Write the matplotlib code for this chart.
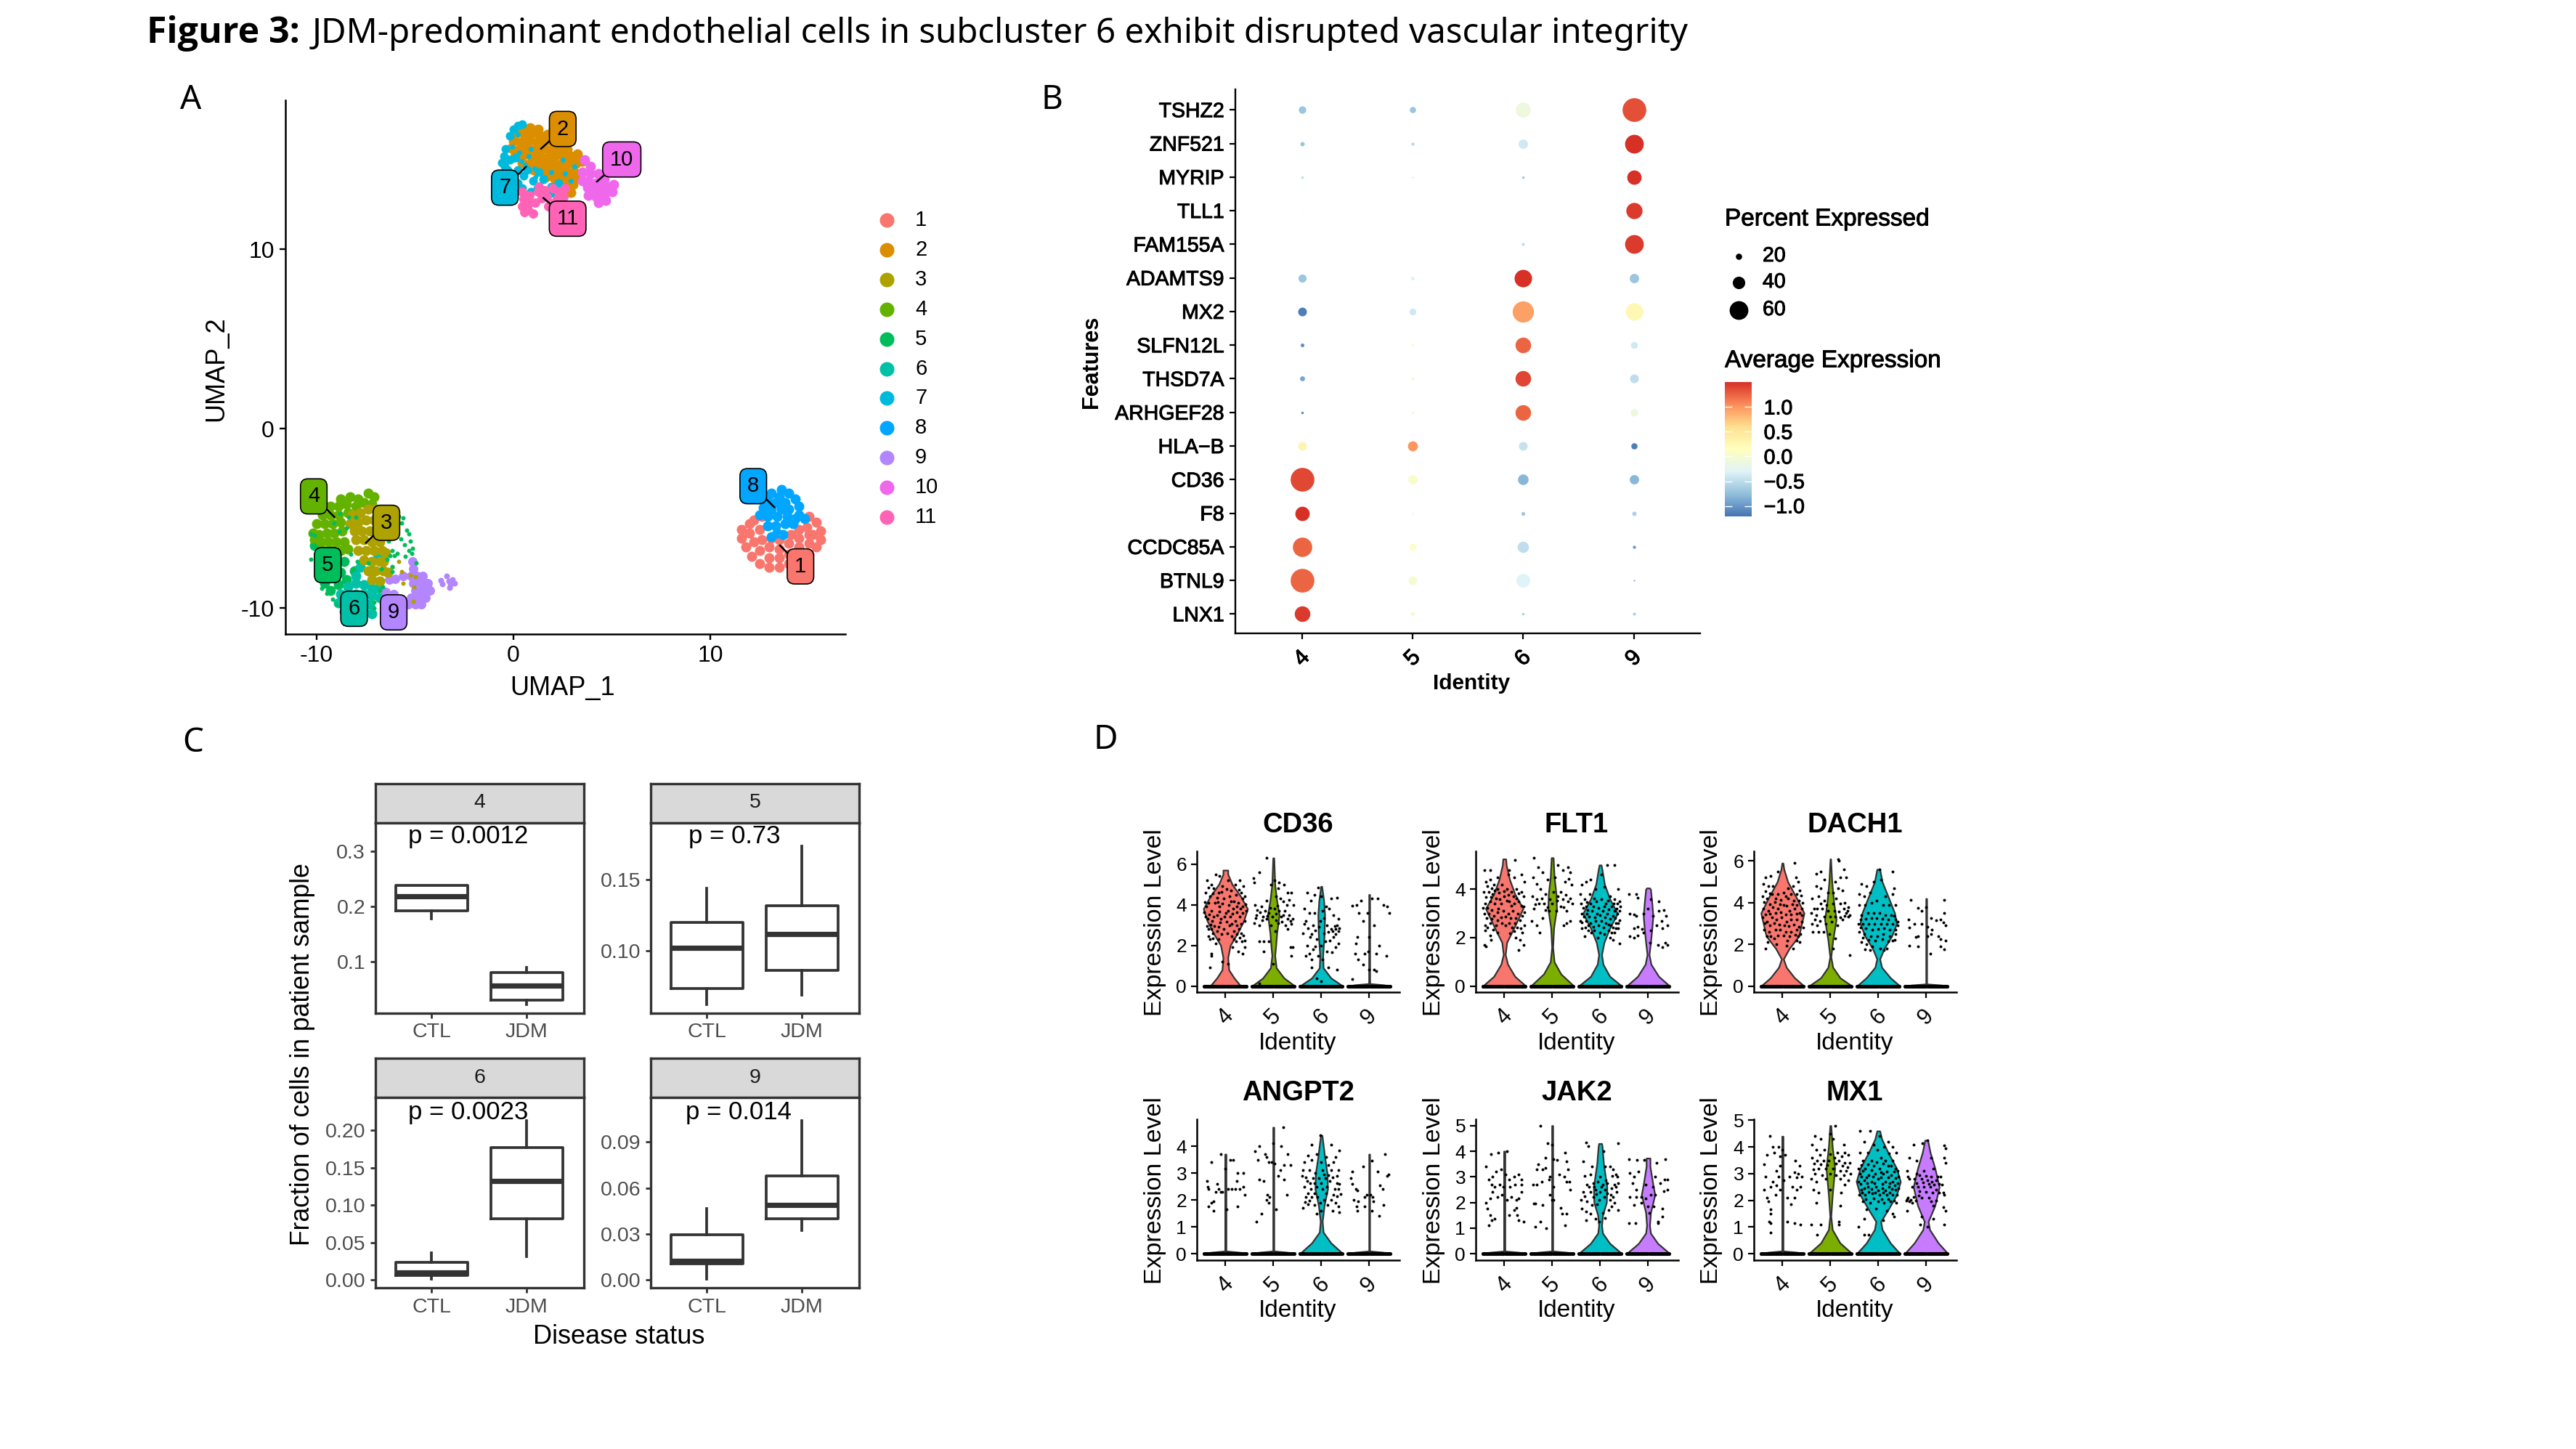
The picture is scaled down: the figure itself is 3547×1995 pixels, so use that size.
import matplotlib
matplotlib.use("Agg")
import matplotlib.pyplot as plt
import matplotlib.patheffects as pe
from matplotlib.colors import LinearSegmentedColormap, Normalize
from matplotlib.cm import ScalarMappable

plt.rcParams['font.family'] = ['Liberation Sans', 'DejaVu Sans']

W, H = 3547, 1995
LINE = '#333333'

# ---- panel A ----
HUES = ['#F8766D', '#DB8E00', '#AEA200', '#64B200', '#00BD5C', '#00C1A7',
        '#00BADE', '#00A6FF', '#B385FF', '#EF67EB', '#FF63B6']
CLUSTERS = ['1', '2', '3', '4', '5', '6', '7', '8', '9', '10', '11']
LABEL_X = [14.58, 2.5, -6.46, -10.15, -9.44, -8.1, -0.44, 12.18, -6.09, 5.5, 2.75]
LABEL_Y = [-7.67, 16.7, -5.24, -3.77, -7.6, -10.03, 13.43, -3.2, -10.23, 15.0, 11.7]
LEADER_X = [13.54, 1.4, -7.5, -9.1, None, None, 0.63, 13.25, None, 4.24, 1.52]
LEADER_Y = [-6.5, 15.6, -6.36, -4.92, None, None, 14.59, -4.37, None, 13.77, 12.85]

U1 = [(11.6,-5.6),(11.6,-6.1),(11.8,-6.6),(12.1,-7.1),(12.5,-7.5),(13,-7.7),(13.5,-7.7),(14,-7.5),(14.5,-7.2),(15,-7),
      (15.4,-6.6),(15.6,-6.2),(15.6,-5.7),(15.4,-5.2),(15,-4.9),(12,-5.3),(12,-5.8),(12.2,-6.3),(12.5,-6.8),(13,-7.2),
      (13.5,-7.2),(14,-7),(14.5,-6.6),(15,-6.4),(15.2,-5.9),(14.9,-5.5),(14.5,-5.6),(14.1,-5.9),(14.5,-6.1),(14,-6.4),
      (13.5,-6.7),(13,-6.6),(12.6,-6.2),(13.1,-6.1),(13.5,-6.2),(12.5,-5.6),(12.2,-5.1),(12.6,-4.9),(15,-5.9)]
U8 = [(13.6,-3.4),(13.1,-3.6),(14,-3.6),(14.3,-3.9),(13.5,-3.8),(12.9,-4),(13.3,-4.1),(13.8,-4.1),(14.5,-4.3),(12.7,-4.4),
      (13.1,-4.5),(13.6,-4.5),(14,-4.5),(14.5,-4.8),(12.5,-4.8),(12.9,-4.9),(13.4,-4.9),(13.9,-4.9),(14.3,-5),(14.8,-5),
      (12.9,-5.4),(13.3,-5.4),(13.8,-5.3),(13.4,-5.8),(13.7,-5.9),(13.1,-6),(14.2,-5.3)]
U2 = [(.42,16.82),(.83,16.75),(1.24,16.7),(.12,16.45),(.55,16.38),(.93,16.42),(1.36,16.33),(1.72,16.41),(2.15,16.36),
      (-.02,16.03),(.38,15.96),(.77,16.04),(1.18,15.97),(1.63,16.02),(2.04,15.93),(2.46,15.9),(-.12,15.62),(.29,15.55),
      (.74,15.64),(1.12,15.56),(1.53,15.61),(1.87,15.52),(2.33,15.6),(2.71,15.55),(.08,15.18),(.52,15.25),(.91,15.16),
      (1.31,15.22),(1.76,15.15),(2.12,15.23),(2.56,15.17),(2.93,15.2),(3.24,15.3),(.44,14.81),(.79,14.75),(1.27,14.84),
      (1.58,14.77),(2.03,14.82),(2.38,14.74),(2.84,14.8),(3.17,14.78),(3.52,14.9),(1.02,14.42),(1.43,14.36),(1.81,14.41),
      (2.24,14.37),(2.63,14.43),(3.05,14.35),(1.62,14.02),(2.06,13.96),(2.41,14.03),(2.83,13.97),(3.21,14.0),(2.24,13.6),
      (2.68,13.55),(3.02,13.62),(2.58,13.2),(2.91,13.15)]
U7 = [(-.4,15.6),(-.5,15.2),(-.6,14.8),(-.3,14.4),(-.1,14.1),(.2,14.4),(.5,14.1),(-.2,16.3),(.2,16.9),(.45,16.95),(0,16.7),
      (-.45,14.6),(.1,15.1),(-.2,15),(.7,14.4),(1,13.8),(1.2,13.4),(1.5,13.9),(1.3,14.3),(1.9,13.5),(2.1,13.1),(2.3,13.7),
      (1.7,13.1),(.9,13.2),(-.1,13.4),(.2,13.7),(.45,13.4)]
# cyan dots scattered over the orange cluster
U7S = [(1.05,14.5),(1.6,14),(2.2,13.7),(.76,15.2),(-.08,15.7),(.2,16.4),(.3,15.4),(.6,14.7),(2.6,14.2),(1.1,14),(1.9,14.3),
       (-.3,15.1),(0,15.0),(.4,14.9),(.9,15.6),(2.9,13.8),(3.1,14.6),(2.5,15.0)]
U10 = [(3.6,15.0),(3.9,14.6),(3.5,14.3),(3.9,14.2),(4.3,14.2),(3.5,13.8),(3.8,13.8),(4.2,13.7),(4.6,13.9),(3.75,13.45),
       (4.0,13.3),(4.4,13.4),(4.8,13.5),(3.8,13.0),(4.2,12.9),(4.6,13.0),(5.0,13.2),(5.1,13.6),(4.3,12.6),(4.7,12.7)]
U11 = [(.45,13.2),(.5,12.8),(.45,12.4),(.8,13),(.8,12.6),(.75,12.2),(1.0,12.0),(.55,12.05),(1.1,12.6),(1.25,13.2),(1.3,13.5),
       (1.6,13.3),(1.7,12.9),(1.9,12.55),(2.2,12.8),(2.3,13.2),(2.55,12.9),(1.45,12.85),(2.0,13.4),(2.6,13.4),(1.75,12.4)]
U5 = [(-10.1,-6.5),(-9.9,-7),(-9.7,-7.5),(-9.3,-6.9),(-9.5,-8),(-9.1,-7.5),(-9.6,-8.6),(-9.2,-8.2),(-8.8,-8),(-9.3,-9),
      (-8.9,-8.7),(-8.5,-8.4),(-8.1,-7.9),(-8.6,-7.4)]
# sparse green dots on the rim and over the other clusters, drawn small
U5S = [(-5.68,-5.26),(-5.42,-5.67),(-5.3,-5.87),(-5.72,-6.15),(-5.24,-6.28),(-5.13,-6.68),(-5.3,-6.8),(-5.17,-6.96),(-6.35,-6.28),
       (-6.16,-6.8),(-6.27,-7.09),(-6.05,-7.09),(-5.5,-7.13),(-4.94,-7.49),(-6.16,-7.69),(-6.16,-7.97),(-6.79,-9.03),(-6.64,-8.79),
       (-7.08,-10),(-7.08,-9.64),(-10.3,-7.29),(-9.74,-8.91),(-9.48,-9.19),(-9.19,-9.51),(-9,-9.8),(-10.1,-5.95),(-10.3,-5.87),
       (-10.15,-6.48),(-8.82,-4.74),(-8.38,-4.94),(-8.0,-4.94),(-9.11,-5.26),(-8.86,-5.75),(-8.49,-5.55),(-8.27,-7.0),(-7.93,-7.41),
       (-7.38,-7.49),(-6.72,-7.81),(-6.42,-7.29),(-5.85,-4.9),(-5.6,-4.95),(-6.05,-6.05),(-5.55,-6.45),(-5.92,-6.95)]
U3S = [(-5.83,-7.41),(-5.68,-7.97),(-6.16,-7.7),(-5.24,-8.18),(-4.98,-8.26),(-5.05,-8.83),(-5.61,-8.62),(-5.09,-9.6)]
U4 = [(-8.8,-3.9),(-8.3,-3.8),(-7.9,-3.9),(-7.4,-3.6),(-7.1,-3.8),(-9.3,-4.3),(-8.9,-4.3),(-8.5,-4.2),(-8,-4.3),(-7.6,-4.1),
      (-7.2,-4.2),(-9.7,-4.8),(-9.3,-4.8),(-8.9,-4.8),(-8.4,-4.7),(-10,-5.3),(-9.6,-5.3),(-9.2,-5.3),(-8.8,-5.2),(-10.2,-5.8),
      (-9.9,-5.9),(-9.5,-5.8),(-9.1,-5.8),(-8.7,-5.7),(-10.1,-6.2),(-9.8,-6.3),(-9.4,-6.3),(-9,-6.3),(-8.6,-6.3),(-9.7,-6.8),
      (-9.2,-6.8),(-8.8,-6.8),(-8.4,-6.7)]
U3 = [(-8.2,-4.8),(-7.8,-4.7),(-7.4,-4.5),(-7,-4.5),(-6.6,-4.8),(-8.3,-5.3),(-7.9,-5.2),(-7.5,-5.1),(-7.1,-5.1),(-6.7,-5.2),
      (-8.1,-5.7),(-7.7,-5.7),(-7.3,-5.7),(-6.9,-5.7),(-6.5,-5.8),(-8,-6.2),(-7.6,-6.2),(-7.2,-6.3),(-6.8,-6.3),(-7.9,-6.8),
      (-7.5,-6.8),(-7.1,-6.8),(-6.7,-6.8),(-6.5,-6.9),(-7.6,-7.3),(-7.2,-7.4),(-6.8,-7.4),(-6.6,-7.4),(-7.4,-7.9),(-7,-7.9),
      (-6.6,-7.9),(-6.4,-8),(-7.2,-8.4),(-6.8,-8.5)]
U6 = [(-8.4,-8.8),(-8,-8.6),(-7.6,-8.7),(-7.2,-8.9),(-6.9,-8.9),(-8.8,-9.2),(-8.4,-9.3),(-8,-9.2),(-7.6,-9.2),(-7.2,-9.3),
      (-6.8,-9.4),(-8.9,-9.7),(-8.5,-9.8),(-8.1,-9.7),(-7.7,-9.7),(-7.3,-9.8),(-8.6,-10.2),(-7.6,-10.2),(-7.2,-10.3),
      (-8,-8.2),(-7.8,-7.7),(-7.2,-7.9),(-6.9,-7.2)]
U9 = [(-5.15,-7.4),(-5.1,-7.8),(-5.2,-8.2),(-4.9,-8.2),(-4.6,-8.2),(-5.1,-8.6),(-4.7,-8.6),(-4.35,-8.6),(-5.0,-9),(-4.6,-9),
      (-4.25,-9),(-5.2,-9.4),(-4.8,-9.4),(-4.45,-9.4),(-5.0,-9.8),(-4.7,-9.8),(-6.5,-9.1),(-6.1,-9.2),(-6.6,-9.6),(-6.2,-9.6),
      (-5.9,-9.5),(-5.6,-8.2),(-6.0,-8.35),(-6.3,-8.4),(-5.35,-9.8)]
U9S = [(-3.69,-8.46),(-3.62,-8.66),(-3.4,-8.22),(-3.3,-8.5),(-3.2,-8.7),(-3.1,-8.4),(-3.25,-8.85),(-3.0,-8.6)]
# draw order, later ones sit on top; third item is dot diameter in pixels
UMAP_LAYERS = [(U1, 0, 14), (U8, 7, 14), (U5, 4, 14), (U6, 5, 14), (U9, 8, 13), (U9S, 8, 8), (U4, 3, 14), (U3, 2, 14), (U3S, 2, 6),
               (U5S, 4, 6), (U2, 1, 14), (U10, 9, 14), (U7, 6, 12), (U7S, 6, 7), (U11, 10, 13)]

# ---- panel B ----
DOT_GENES = ['TSHZ2', 'ZNF521', 'MYRIP', 'TLL1', 'FAM155A', 'ADAMTS9', 'MX2', 'SLFN12L', 'THSD7A', 'ARHGEF28',
             'HLA\u2212B', 'CD36', 'F8', 'CCDC85A', 'BTNL9', 'LNX1']
DOT_IDENT = ['4', '5', '6', '9']
DOT_PCT = [[24, 20, 48, 76], [14, 10, 30, 60], [8, 6, 8, 46], [3, 2, 2, 52], [2, 3, 10, 60], [26, 12, 56, 30],
           [28, 22, 68, 56], [12, 8, 50, 22], [16, 10, 50, 28], [8, 8, 50, 24], [28, 32, 28, 20], [76, 30, 34, 30],
           [46, 6, 12, 14], [62, 22, 36, 10], [76, 28, 44, 5], [50, 14, 8, 10]]
DOT_AVG = [[-.7, -.7, -.1, 1.35], [-.7, -.55, -.4, 1.5], [-.5, -.3, -.7, 1.5], [-.2, -.2, -.3, 1.45],
           [-.2, -.2, -.5, 1.45], [-.7, -.3, 1.5, -.7], [-1.15, -.4, .95, .25], [-1.05, .05, 1.25, -.4],
           [-.9, 0, 1.4, -.5], [-1.1, 0, 1.25, -.1], [.3, 1.0, -.45, -1.15], [1.38, .05, -.8, -.8],
           [1.5, -.2, -.7, -.6], [1.25, .1, -.5, -1.0], [1.25, 0, -.3, -.9], [1.45, 0, -.6, -.6]]
RDYLBU = ['#4575B4', '#91BFDB', '#E0F3F8', '#FFFFBF', '#FEE090', '#FC8D59', '#D73027']

# ---- panel C ----
BOX_GROUPS = ['CTL', 'JDM']
BOX_4 = [(.177, .1917, .218, .2375, .2375), (.023, .03, .057, .0806, .09)]
BOX_5 = [(.0626, .0737, .1024, .1199, .1438), (.0691, .0866, .1116, .1317, .1734)]
BOX_6 = [(.001, .0067, .0097, .0241, .0359), (.0318, .082, .1318, .1764, .2128)]
BOX_9 = [(.0003, .0105, .0126, .0293, .0466), (.0321, .0399, .0489, .0679, .1038)]

# ---- panel D ----
VIOLIN_IDS = ['4', '5', '6', '9']
VIOLIN_COLORS = ['#F8766D', '#7CAE00', '#00BFC4', '#C77CFF']
ZERO_DX = [-.44, -.41, -.38, -.35, -.32, -.29, -.26, -.23, -.2, -.17, -.14, -.11, -.08, -.05, -.02,
           .02, .05, .08, .11, .14, .17, .2, .23, .26, .29, .32, .35, .38, .41, .44]

V_CD36 = [[(0,.32),(.4,.18),(.8,.07),(1.4,.05),(2,.1),(2.6,.25),(3.2,.38),(3.8,.46),(4.4,.32),(5,.14),(5.5,.05),(5.7,.05)],
          [(0,.45),(.4,.22),(.9,.06),(1.5,.03),(2,.05),(2.6,.07),(3.5,.12),(4.2,.07),(5,.03),(6.3,.01)],
          [(0,.45),(.4,.2),(.9,.04),(1.5,.03),(2.5,.06),(3.5,.07),(4.2,.05),(4.9,.01)],
          [(0,.45),(.06,.3),(.12,.01),(4.5,.008)]]
V_FLT1 = [[(0,.45),(.4,.22),(.9,.07),(1.3,.02),(1.8,.05),(2.4,.2),(3.2,.39),(3.8,.22),(4.4,.11),(5,.04),(5.25,.03)],
          [(0,.45),(.5,.18),(1,.04),(1.6,.01),(2.4,.03),(3.2,.09),(3.8,.08),(4.5,.04),(5.3,.02)],
          [(0,.45),(.4,.2),(.9,.06),(1.3,.03),(1.8,.08),(2.4,.2),(3,.36),(3.6,.2),(4.2,.09),(4.8,.04),(5,.02)],
          [(0,.45),(.4,.22),(.9,.06),(1.3,.02),(1.8,.05),(2.4,.08),(2.9,.1),(3.4,.08),(4,.05),(4.05,.03)]]
V_DACH1 = [[(0,.45),(.4,.25),(.9,.08),(1.3,.02),(1.8,.14),(2.4,.34),(3.5,.45),(4.2,.3),(5,.11),(5.6,.03),(5.9,.01)],
           [(0,.45),(.4,.2),(.9,.05),(1.4,.01),(2.2,.05),(3.2,.12),(4,.07),(5,.03),(6.1,.005)],
           [(0,.45),(.4,.25),(.9,.07),(1.3,.03),(1.8,.12),(2.4,.28),(3,.38),(3.5,.34),(4.2,.22),(5,.08),(5.6,.03)],
           [(0,.45),(.05,.3),(.1,.008),(4.2,.008)]]
V_ANGPT2 = [[(0,.45),(.05,.3),(.1,.012),(3.7,.012)],
            [(0,.45),(.05,.3),(.1,.01),(4.7,.01)],
            [(0,.45),(.4,.2),(.8,.04),(1.2,.02),(1.8,.06),(2.4,.13),(3,.12),(3.6,.07),(4.4,.015)],
            [(0,.45),(.05,.3),(.1,.008),(3.7,.008)]]
V_JAK2 = [[(0,.45),(.05,.3),(.1,.012),(4,.012)],
          [(0,.45),(.05,.3),(.1,.01),(5,.01)],
          [(0,.45),(.4,.2),(.8,.05),(1.1,.03),(1.5,.05),(2,.13),(2.6,.14),(3.5,.07),(4.2,.04),(4.3,.03)],
          [(0,.45),(.4,.2),(.8,.05),(1.1,.03),(1.6,.05),(2.3,.14),(2.7,.1),(3.4,.04),(3.73,.04)]]
V_MX1 = [[(0,.45),(.05,.3),(.1,.012),(4.4,.012)],
         [(0,.45),(.4,.2),(.9,.04),(1.4,.01),(2.2,.04),(3.2,.09),(4,.04),(4.8,.01)],
         [(0,.45),(.4,.25),(.9,.08),(1.2,.05),(1.7,.22),(2.2,.38),(2.7,.46),(3.2,.38),(3.8,.2),(4.3,.07),(4.6,.03)],
         [(0,.45),(.4,.25),(.9,.07),(1.2,.04),(1.8,.18),(2.5,.27),(3.2,.18),(3.8,.08),(4.25,.03)]]

J_CD36 = [
    [(-.38,5.2),(-.3,5.0),(-.2,5.5),(-.12,5.4),(.2,5.0),(.3,5.2),(.38,4.9),(-.41,4.6),(-.33,4.4),(-.25,4.8),(-.15,4.6),(-.06,4.9),
     (.05,5.2),(.12,4.7),(.22,4.5),(.33,4.6),(.41,4.4),(-.4,3.9),(-.3,3.7),(-.22,4.1),(-.12,3.9),(-.04,4.3),(.07,4.0),(.16,3.8),
     (.26,4.1),(.36,3.9),(-.37,3.3),(-.28,3.2),(-.18,3.5),(-.09,3.3),(.01,3.6),(.1,3.4),(.2,3.2),(.3,3.4),(.4,3.2),(-.35,2.8),
     (-.26,2.6),(-.14,2.9),(-.03,2.8),(.08,3.0),(.18,2.7),(.28,2.8),(.38,2.5),(-.32,2.3),(-.2,2.1),(.22,2.2),(.34,2.2),(.4,1.9),
     (-.3,1.6),(.15,1.9),(.27,1.7),(.36,1.6),(-.33,.9),(-.07,1.2),(.05,1.1),(-.3,1.5),
     (-.36,4.85),(-.27,4.55),(-.18,4.35),(-.08,4.62),(.02,4.78),(.09,4.42),(.17,4.18),(.28,4.72),(.36,4.3),(-.43,4.12),(-.35,4.08),
     (-.16,4.12),(-.06,4.05),(.12,4.15),(.23,3.92),(.31,3.82),(.42,4.02),(-.44,3.62),(-.34,3.52),(-.25,3.42),(-.13,3.65),(-.02,3.42),
     (.06,3.72),(.14,3.55),(.24,3.62),(.35,3.6),(.43,3.72),(-.42,3.42),(-.31,3.02),(-.23,2.95),(-.11,3.12),(.03,3.15),(.13,3.05),
     (.23,2.98),(.33,3.05),(-.38,2.95),(-.29,2.82),(-.18,2.72),(-.08,2.55),(.04,2.6),(.13,2.45),(.24,2.55),(.33,2.6),(-.36,2.45),
     (-.27,2.35),(-.14,2.3),(.17,2.32),(.29,2.38),(.4,2.25)],
    [(-.15,6.3),(-.41,5.3),(-.3,5.6),(-.4,5.1),(.02,5.2),(.12,5.1),(.22,5),(.3,4.6),(.38,4.6),(.1,4.8),(-.05,5.0),(-.38,4.0),
     (-.25,3.9),(-.15,4.2),(.05,4.4),(.15,4.3),(.28,4.0),(.42,4),(-.35,3.5),(-.22,3.4),(-.1,3.6),(.02,3.8),(.12,3.7),(.2,3.5),
     (.32,3.5),(.4,3.3),(-.4,3.1),(-.3,3.0),(-.05,3.0),(.1,3.1),(.25,3),(-.3,2.2),(-.2,2.2),(-.1,2.2),(.04,2.7),(.3,2.8),(.35,1.9),
     (.4,1.9),(.37,1.5),(-.2,1.7),(0,1.1),(-.3,.15),
     (-.34,3.75),(-.28,3.62),(-.18,3.72),(-.07,3.85),(-.02,3.42),(.06,3.55),(.16,3.42),(.24,3.72),(.35,3.2),(-.37,3.35),(-.24,3.25),
     (-.14,3.3),(.05,3.25),(.17,3.15),(.3,3.3),(.38,3.05),(-.12,3.45),(.08,3.95),(.2,4.15),(.33,4.25)],
    [(-.15,4.5),(-.3,4.6),(-.22,4.2),(-.06,4.85),(0,4.4),(.2,4.3),(.33,4.35),(.1,3.9),(-.35,3.8),(-.25,3.6),(-.14,3.6),(.02,3.7),
     (.16,3.8),(.25,3.5),(.36,3.3),(-.32,3.2),(-.18,3.0),(-.02,3.2),(.12,3.0),(.2,2.8),(.3,2.8),(.36,2.7),(-.38,2.6),(-.24,2.4),
     (-.1,2.3),(.05,2.6),(.25,2.4),(.35,2.1),(-.3,2.0),(-.18,1.8),(0,2.0),(.12,1.7),(.3,1.9),(-.33,1.5),(-.2,1.3),(-.06,1.5),
     (-.2,.9),(.15,.9),(.32,.8),(-.1,.4),(0,.25),
     (.28,2.95),(.33,3.0),(.24,2.72),(.38,2.85),(.15,2.65),(.3,2.55),(-.28,2.85),(-.12,2.75),(-.05,2.9),(.05,3.35),(-.36,3.05),
     (-.2,2.55),(.08,2.2),(.18,2.25),(-.25,1.6),(.02,1.3),(.22,1.65),(-.12,1.95)],
    [(-.18,4.2),(-.27,4.0),(-.35,3.95),(-.04,3.6),(.05,4.3),(.18,4.3),(.3,4.0),(.38,3.9),(.42,3.6),(-.22,3.6),(-.12,3.2),(-.25,2.4),
     (-.28,2.1),(0,2.4),(.1,3.0),(.2,2.0),(.15,1.6),(-.1,1.6),(-.02,1.7),(-.3,1.6),(.35,1.5),(-.24,1.3),(-.12,1.05),(.1,.8),(.15,.75),
     (-.35,.35),(0,.8)]]
J_FLT1 = [
    [(-.42,4.8),(-.3,4.8),(.22,5.2),(.1,4.8),(-.38,4.3),(-.3,4.4),(-.22,4.2),(-.14,4.5),(.08,4.6),(.2,4.5),(.36,4.6),(.42,4.3),
     (-.43,3.9),(-.33,3.9),(-.25,3.8),(-.15,4.0),(-.05,4.2),(.05,4.0),(.14,3.9),(.25,4.0),(.35,3.9),(-.4,3.4),(-.3,3.5),(-.2,3.4),
     (-.1,3.6),(0,3.7),(.1,3.5),(.2,3.4),(.3,3.5),(.4,3.3),(-.42,3.0),(-.32,3.0),(-.22,2.9),(-.12,3.2),(-.02,3.1),(.08,3.0),(.18,3.1),
     (.28,3.0),(.38,2.9),(-.4,2.5),(-.3,2.6),(-.18,2.5),(-.05,2.6),(.1,2.6),(.22,2.6),(.34,2.4),(.42,2.5),(-.4,2.3),(-.3,2.1),(.24,2.0),
     (.33,1.9),(-.42,1.7),(-.38,1.65),(.4,1.7),(.3,1.5),(-.28,1.9),
     (-.36,4.12),(-.27,4.05),(-.2,3.95),(-.11,3.85),(-.01,3.92),(.09,3.78),(.19,3.72),(.3,3.82),(.41,3.72),(-.38,3.68),(-.28,3.68),
     (-.17,3.62),(-.07,3.42),(.05,3.52),(.14,3.32),(.25,3.62),(.36,3.32),(-.44,3.22),(-.35,3.22),(-.26,3.15),(-.15,3.05),(-.06,2.85),
     (.03,2.88),(.13,2.82),(.23,2.82),(.33,2.72),(.42,3.05),(-.37,2.82),(-.27,2.78),(-.14,2.72),(.02,2.52),(.16,2.42),(.27,2.42),
     (.38,2.22),(-.35,2.42),(-.24,2.32),(-.15,2.22),(.12,2.18),(.2,2.28)],
    [(-.38,5.3),(-.3,4.9),(-.4,4.5),(-.2,4.7),(-.1,4.4),(.12,5),(.22,4.8),(.32,4.9),(.38,4.7),(.05,4.5),(.26,4.3),(.4,4.2),(-.42,3.7),
     (-.33,3.6),(-.25,4),(-.14,3.8),(-.05,3.6),(.03,3.9),(.12,3.7),(.22,3.6),(.32,3.5),(.42,3.4),(-.38,3.2),(-.28,3.4),(-.18,3.4),
     (-.07,3.1),(.08,3.1),(.18,3.3),(.3,3.1),(-.43,2.7),(-.32,2.5),(-.2,2.8),(.3,2.6),(.38,2.7),(.24,2.5),(-.27,2.2),
     (-.36,3.38),(-.22,3.62),(-.1,3.25),(0,3.42),(.1,3.52),(.17,3.88),(.28,3.78),(.37,3.62),(-.15,3.15),(.24,3.25),(-.33,4.22),(.34,4.42)],
    [(.15,5),(.3,5),(-.3,4.3),(-.38,4.2),(-.2,4.4),(.02,4.6),(.38,4.0),(-.42,3.8),(-.33,3.6),(-.22,3.8),(-.1,4),(.08,4.1),(.2,3.7),
     (.3,3.6),(.4,3.5),(-.4,3.4),(-.3,3.3),(-.2,3.4),(-.08,3.5),(.02,3.6),(.12,3.4),(.24,3.3),(.34,3.2),(.42,3.3),(-.38,3.0),(-.28,3.0),
     (-.17,3.1),(-.06,3.0),(.05,3.1),(.15,3.0),(.26,2.9),(.36,3.0),(-.42,2.7),(-.3,2.7),(-.2,2.6),(-.1,2.7),(.02,2.7),(.12,2.6),(.22,2.5),
     (.32,2.6),(-.38,2.4),(-.25,2.3),(-.12,2.3),(0,2.2),(.18,2.3),(.3,2.2),(.38,2.4),(-.33,2.05),(.26,1.9),(.2,2.0),(-.05,2.0),(.4,1.75),
     (-.36,3.22),(-.26,3.15),(-.14,3.28),(-.03,3.22),(.08,3.28),(.18,3.18),(.3,3.12),(.4,3.12),(-.34,2.88),(-.23,2.88),(-.11,2.85),(0,2.92),
     (.1,2.85),(.21,2.78),(.31,2.82),(.41,2.72),(-.38,2.62),(-.25,2.52),(-.15,2.45),(-.04,2.5),(.07,2.42),(.17,2.55),(.27,2.42),(.37,2.6),
     (-.31,2.42),(-.19,2.2),(.08,2.15),(.23,2.22),(.33,2.38),(-.28,3.48),(-.12,3.62),(.16,3.52),(.28,3.42),(.36,3.42)],
    [(-.4,3.8),(-.25,3.8),(-.22,3.65),(.22,3.5),(.05,3.6),(.22,3.1),(.33,3.15),(-.38,3),(-.3,2.95),(-.25,2.9),(-.1,3),(0,3.2),(.1,2.9),
     (.28,2.7),(.38,2.9),(.4,2.5),(-.3,2.4),(-.22,2.45),(-.12,2.35),(.05,2.3),(.18,2.5),(.3,2.4),(-.38,2.05),(-.3,2),(-.22,2.1),(-.1,2.2),
     (.04,1.8),(.2,1.7),(.35,1.8),(.4,1.7),(.3,1.6)]]
J_DACH1 = [
    [(.25,5.9),(-.35,5.2),(-.25,5.3),(-.1,5.5),(.28,5.2),(.33,5),(-.4,4.9),(-.3,4.8),(-.2,4.8),(.12,4.7),(.22,4.8),(.36,4.6),(-.42,4.3),
     (-.33,4.2),(-.22,4.4),(-.1,4.4),(.02,4.5),(.12,4.2),(.24,4.1),(.34,4.1),(.42,4),(-.4,3.7),(-.3,3.6),(-.2,3.8),(-.09,3.7),(.03,3.9),
     (.14,3.6),(.25,3.7),(.36,3.5),(-.42,3.3),(-.32,3.1),(-.22,3.3),(-.12,3.2),(-.02,3.3),(.08,3.1),(.18,3.2),(.3,3.2),(.4,3.1),(-.38,2.7),
     (-.28,2.6),(-.15,2.7),(-.05,2.7),(.07,2.6),(.18,2.6),(.3,2.7),(.38,2.5),(-.33,2.4),(-.18,2.3),(.1,2.2),(.3,2.2),(.36,2.1),(-.35,1.8),
     (-.12,2),(.22,1.8),
     (-.36,4.55),(-.27,4.45),(-.15,4.22),(-.04,4.15),(.07,4.32),(.18,4.42),(.29,4.42),(.39,4.35),(-.38,4.02),(-.27,3.92),(-.16,4.02),
     (-.05,3.92),(.09,3.85),(.2,3.92),(.3,3.88),(.4,3.72),(-.36,3.45),(-.26,3.48),(-.15,3.52),(-.04,3.55),(.07,3.45),(.18,3.45),(.29,3.48),
     (.41,3.42),(-.37,3.02),(-.27,2.92),(-.17,3.02),(-.07,2.95),(.04,2.92),(.13,2.88),(.24,2.95),(.34,2.85),(.43,2.82),(-.25,2.38),
     (-.1,2.42),(.02,2.42),(.15,2.4),(.26,2.45),(-.31,2.12),(.08,1.95),(.33,2.38)],
    [(.16,6.1),(.17,6),(-.3,5.4),(-.2,5.5),(.28,5.6),(-.12,5.1),(.2,5.2),(.32,5.2),(.1,5),(-.3,4.8),(-.2,4.7),(-.05,4.5),(.06,4.5),(.16,4.7),
     (.25,4.6),(-.38,4.2),(-.25,4.3),(-.12,4.1),(.12,4.2),(.3,4),(.38,3.8),(-.4,3.5),(-.3,3.4),(-.18,3.7),(-.05,3.6),(.08,3.6),(.2,3.3),
     (.32,3.5),(.4,3.4),(-.38,3.0),(-.28,2.9),(-.1,3),(.02,3.1),(.15,2.9),(.25,3.2),(-.37,2.6),(-.25,2.6),(-.15,2.6),(-.02,2.5),(.1,2.3),
     (.05,1.8),(.41,1.5),
     (-.33,3.18),(-.22,3.12),(-.12,3.35),(0,3.35),(.1,3.32),(.18,3.58),(.28,3.72),(.36,3.62),(-.28,3.72),(-.08,3.88),(.05,3.95),(.2,3.95),
     (.3,3.38),(.38,3.32),(-.34,3.72),(-.2,3.95)],
    [(.03,5.6),(.3,5.5),(-.35,4.9),(-.25,4.8),(-.1,5.0),(.05,5.1),(.33,4.7),(-.4,4.4),(-.3,4.3),(-.18,4.5),(.15,4.3),(.3,4.4),(-.4,3.9),
     (-.28,3.9),(-.15,4),(-.03,4.1),(.1,3.9),(.22,3.9),(.35,3.9),(-.35,3.4),(-.22,3.5),(-.1,3.5),(.02,3.5),(.14,3.4),(.27,3.4),(.36,3.2),
     (-.42,3),(-.32,3),(-.2,3),(-.08,3),(.05,3),(.17,3),(.3,3),(.4,2.9),(-.4,2.6),(-.3,2.5),(-.16,2.4),(-.02,2.4),(.1,2.5),(.24,2.4),
     (.35,2.5),(-.35,2.1),(-.25,2),(-.12,1.9),(.04,1.8),(.18,1.8),(.3,2.2),(-.28,1.75),
     (-.37,3.2),(-.26,3.22),(-.14,3.25),(-.03,3.28),(.09,3.22),(.21,3.18),(.33,3.38),(.41,3.1),(-.37,2.82),(-.26,2.78),(-.13,2.72),(-.01,2.75),
     (.11,2.78),(.23,2.72),(.35,2.72),(-.33,2.32),(-.2,2.22),(-.07,2.2),(.08,2.25),(.2,2.15),(.34,2.22),(-.18,1.72),(.12,1.72)],
    [(-.32,4.15),(.38,4.15),(-.18,3.75),(-.1,3.6),(0,3.8),(.38,3.5),(.1,3.25),(.2,3.15),(.3,3.2),(-.37,3.2),(-.25,3.0),(-.36,2.8),(-.1,3.0),
     (.02,2.85),(.12,2.7),(.35,3.05),(.4,2.9),(-.22,2.35),(-.18,2.4),(.1,2.5),(.25,2.4),(.3,2.25),(.4,2.2),(-.36,1.95),(-.18,1.9),(.08,1.55),
     (.38,1.75),(.3,1.9),(.02,2.4)]]
J_ANGPT2 = [
    [(-.1,3.7),(-.3,3.4),(.1,3.5),(.16,3.5),(0,3.15),(.25,3.0),(.38,3.0),(.02,1.65),(-.38,2.7),(-.37,2.5),(-.36,2.4),(-.17,2.6),(-.2,2.3),
     (-.15,2.4),(-.1,2.3),(-.06,2.3),(.05,2.4),(.13,2.4),(.2,2.4),(.24,2.7),(.3,2.4),(.38,2.5),(.4,2.2),(-.3,1.9),(-.35,1.75),(-.25,1.6),
     (-.25,1.95),(.25,1.75)],
    [(.2,4.7),(0,4.1),(.16,4),(-.3,4),(-.38,3.8),(-.18,3.7),(-.32,3.5),(-.15,3.6),(.3,3.7),(-.1,3.4),(-.03,3.4),(.03,3.35),(.15,3.1),(.22,3.3),
     (.35,3.3),(.1,2.9),(.22,2.75),(-.3,2.75),(-.2,2.7),(.28,2.2),(-.12,2.2),(-.08,2.1),(-.15,2),(-.1,1.9),(.05,1.65),(-.25,1.5),(-.36,1.2)],
    [(-.2,4.05),(-.02,4.4),(.2,4.05),(.38,3.85),(-.28,3.65),(-.1,3.7),(.1,3.6),(.3,3.6),(-.35,3.4),(-.2,3.5),(0,3.4),(.15,3.3),(.25,3.4),
     (-.38,3.1),(-.25,3.1),(-.12,3),(.03,3.1),(.2,3.1),(.35,3.1),(-.4,2.9),(-.3,2.7),(-.18,2.8),(-.05,2.8),(.08,2.8),(.18,2.7),(.32,2.9),
     (.37,2.6),(-.36,2.5),(-.22,2.4),(-.1,2.5),(.02,2.4),(.12,2.5),(.28,2.4),(.36,2.4),(-.33,2.1),(-.2,2.1),(-.08,2.1),(.06,2),(.2,2),(.3,1.9),
     (.35,1.75),(-.38,1.7),(-.28,1.85),(-.15,1.8),(0,1.6),(.24,1.6),(.38,1.55),(-.1,1.5),
     (-.33,2.85),(-.24,2.62),(-.14,2.62),(-.01,2.62),(.06,2.95),(.14,2.92),(.24,2.85),(.33,2.62),(.4,2.22),(-.28,2.25),(-.15,2.25),(.1,2.25),
     (.25,2.2),(.33,2.15),(-.25,1.98),(-.02,1.9),(.13,1.82),(-.34,1.92)],
    [(.33,3.7),(-.35,3.05),(-.12,3.25),(.05,3.45),(.18,3.05),(-.38,2.8),(-.35,2.6),(-.28,2.4),(-.25,2.35),(.22,2.55),(.28,2.4),(.38,2.9),(.4,2.95),
     (-.33,2),(-.23,1.95),(-.1,2.1),(-.05,2.2),(.03,2.2),(.07,2.1),(.08,1.95),(-.27,1.75),(-.25,1.6),(-.1,1.75),(.05,1.6),(.2,1.4),(.3,1.8)]]
J_JAK2 = [
    [(-.12,3.95),(.05,4),(-.28,3.9),(.2,3),(-.38,3.4),(-.25,3.0),(-.18,3.2),(-.06,3.3),(.02,3.1),(.1,2.9),(.3,3.1),(.35,2.9),(-.32,2.9),(-.27,2.7),
     (-.2,2.6),(-.1,2.7),(-.02,2.6),(.12,2.6),(.22,2.7),(.35,2.7),(.36,2.4),(-.25,2.4),(-.15,2.2),(-.05,2.3),(.06,2.1),(.15,2.2),(.25,2.1),(.3,2.15),
     (-.38,2),(-.3,2.15),(-.35,1.75),(-.3,1.5),(.1,1.5),(.2,1.7),(.25,1.8),(.27,1.5),(.3,1.3),(.4,1.25),(-.27,1.3),(-.2,1.35),(-.32,1.1)],
    [(-.25,5),(-.1,4.3),(0,4.25),(-.15,3.75),(.02,3.7),(.1,3.65),(.27,3.95),(.3,3.6),(-.3,3.5),(-.33,3.3),(-.2,3.3),(-.15,3.35),(-.05,3.0),(.15,3.1),
     (.25,3),(.33,3.3),(-.4,2.7),(-.32,2.7),(-.22,2.8),(-.07,2.9),(.03,2.6),(.3,2.8),(.36,2.8),(.38,2.5),(-.05,2.3),(0,2.1),(.02,2.1),(-.38,1.95),
     (-.35,1.95),(-.2,1.9),(.18,1.8),(.3,1.55),(.27,1.1),(-.35,1.05),(-.25,1.25),(-.12,1),(.2,1.55)],
    [(-.3,4.35),(-.25,4.2),(.38,4.3),(.07,4.0),(-.35,3.6),(-.18,3.4),(.1,3.4),(.2,3.4),(.27,3.3),(.32,3.1),(-.33,3.05),(-.2,3.1),(0,3.0),(.25,3.05),
     (.36,3.0),(-.28,2.7),(-.15,2.75),(-.05,2.8),(.05,2.7),(.15,2.75),(.3,2.7),(.38,2.75),(-.36,2.4),(-.2,2.4),(-.1,2.5),(0,2.4),(.1,2.5),(.22,2.3),
     (.34,2.4),(-.4,2.1),(-.28,2.05),(-.15,2.2),(-.02,2.1),(.08,2.2),(.2,2.1),(.3,2),(.38,1.7),(-.38,1.75),(-.3,1.65),(-.2,1.55),(.05,1.6),(.18,1.7),
     (-.1,1.35),(-.02,1.25),(-.3,1.3),(.1,1.4),
     (-.24,2.62),(-.12,2.62),(.02,2.62),(.12,2.88),(.24,2.55),(.33,2.6),(-.32,2.25),(-.08,2.32),(.14,2.35),(.27,2.2),(-.18,1.9),(-.06,1.92),(.24,1.85)],
    [(-.4,3.7),(-.23,3.65),(-.08,3.65),(.18,3.55),(.35,3.7),(-.38,3.15),(-.3,3),(-.2,3.2),(.14,3),(.34,2.9),(.4,2.9),(-.33,2.75),(-.25,2.5),(-.05,2.7),
     (.1,2.6),(.25,2.75),(.4,2.5),(-.38,2.2),(-.25,2.2),(-.15,2.2),(-.05,2.15),(.05,2.3),(.15,2.3),(.33,2.45),(-.3,1.9),(-.15,2),(0,1.85),(.12,1.85),
     (.3,1.75),(.3,1.45),(-.4,1.2),(-.26,1.2),(.2,1.2),(.2,1.25),(.02,1.6)]]
J_MX1 = [
    [(-.27,4.4),(-.2,4),(-.08,4),(0,3.9),(-.32,3.7),(-.18,3.8),(-.05,3.65),(.05,3.7),(.27,3.5),(-.38,3.35),(-.12,3.1),(-.05,3.3),(.25,3.05),(.36,3.3),
     (.33,3),(-.35,2.9),(-.2,2.7),(-.08,2.9),(.15,2.9),(.3,2.85),(.4,2.9),(-.38,2.4),(-.25,2.5),(-.12,2.55),(.02,2.75),(.2,2.5),(.3,2.4),(.38,2.5),
     (-.32,2.1),(-.15,2.2),(-.05,2.4),(.1,2.1),(.25,2.1),(.18,1.85),(-.3,1.95),(-.25,1.65),(-.25,1.5),(-.28,1.2),(-.25,1.15),(.1,1.2),(.25,1.15),
     (.38,1.1),(-.25,.8)],
    [(.1,4.8),(0,4.5),(-.33,4.4),(-.2,4.3),(.05,4.3),(.28,4.1),(-.38,4.1),(-.3,3.9),(-.12,3.9),(.15,3.8),(.3,3.8),(.38,3.7),(-.38,3.6),(-.28,3.5),
     (-.15,3.5),(-.03,3.5),(.08,3.6),(.18,3.5),(.3,3.4),(.4,3.4),(-.35,3.15),(-.25,3.2),(-.1,3.2),(.05,3.2),(.2,3.1),(.33,3.1),(-.4,2.8),(-.3,2.7),
     (-.1,2.8),(.2,2.8),(.3,2.6),(.38,2.75),(-.35,2.4),(-.25,2.3),(0,2.4),(.22,2.3),(-.3,1.9),(.2,1.8),(-.4,1.1),(-.2,1.1),(.18,1.1),(.17,1.2),(-.28,.7),
     (-.34,3.38),(-.2,3.35),(-.06,3.32),(.12,3.38),(.25,3.3),(.36,3.25),(-.32,3.0),(-.18,2.95),(0,3.0),(.12,2.95),(.28,2.95),(-.22,3.7),(0,3.72),(.24,3.65),(.42,3.0)],
    [(-.38,4.6),(-.18,4.6),(.02,4.4),(.2,4.2),(-.3,4.2),(-.1,4.1),(.12,4.0),(.3,4),(-.38,3.8),(-.22,3.8),(-.02,3.9),(.22,3.75),(.38,3.8),(-.32,3.5),
     (-.15,3.5),(.05,3.6),(.15,3.5),(.3,3.5),(-.42,3.2),(-.28,3.2),(-.1,3.3),(.02,3.2),(.2,3.3),(.36,3.2),(-.38,3),(-.2,2.95),(-.07,3),(.1,3),(.27,2.95),
     (.42,2.9),(-.42,2.7),(-.3,2.75),(-.15,2.7),(0,2.8),(.14,2.7),(.3,2.7),(.4,2.65),(-.36,2.4),(-.22,2.5),(-.05,2.5),(.08,2.45),(.22,2.5),(.36,2.4),
     (-.4,2.2),(-.28,2.2),(-.12,2.25),(.03,2.2),(.17,2.2),(.3,2.2),(-.33,1.95),(-.18,1.9),(0,1.95),(.12,1.9),(.25,1.95),(.38,1.9),(-.25,1.65),(-.05,1.7),
     (.18,1.6),(.3,1.5),(.32,1.4),(-.3,1.3),(.1,1.25),(-.42,1),(-.3,.7),(-.2,.7),
     (-.36,3.32),(-.22,3.35),(-.04,3.42),(.1,3.38),(.27,3.3),(.4,3.1),(-.33,3.1),(-.14,3.12),(.05,3.05),(.18,3.08),(.33,3.08),(-.36,2.88),(-.25,2.85),
     (-.11,2.88),(.06,2.85),(.2,2.85),(.35,2.82),(-.37,2.62),(-.23,2.65),(-.08,2.65),(.08,2.62),(.23,2.65),(.34,2.55),(-.3,2.45),(-.14,2.42),(0,2.38),
     (.14,2.38),(.28,2.42),(.42,2.45),(-.34,2.28),(-.2,2.32),(-.06,2.3),(.1,2.28),(.24,2.3),(.39,2.22),(-.26,2.05),(-.1,2.08),(.07,2.05),(.2,2.05),(.32,2.0)],
    [(-.27,4.1),(-.08,4.15),(.02,4.25),(.38,4.05),(.4,3.95),(-.35,3.6),(-.2,3.5),(.1,3.6),(.38,3.6),(.4,3.4),(-.4,3.1),(-.38,2.9),(-.2,3.0),(-.05,3.1),
     (.15,3.2),(.3,2.9),(-.36,2.8),(-.25,2.8),(-.1,2.8),(.02,2.75),(.12,2.7),(.2,2.75),(.32,2.6),(-.3,2.5),(-.18,2.5),(-.05,2.5),(.08,2.5),(.2,2.4),(.36,2.3),
     (-.38,2.1),(-.42,2),(-.35,1.95),(-.3,1.9),(-.22,2),(-.1,2.1),(.05,2.1),(.2,2),(.38,2.2),(-.4,1.6),(-.1,1.4),(.15,1.3),(.35,1.75),(.4,1.6),(-.12,1.1),
     (.03,1),(.37,1.1),(.15,1.8),
     (-.14,2.95),(0,2.92),(.1,2.9),(.24,2.88),(-.2,2.65),(-.07,2.68),(.06,2.62),(.16,2.6),(.26,2.62),(-.14,2.35),(0,2.32),(.13,2.3),(.26,2.28),
     (-.4,2.05),(-.33,2.02),(-.26,2.12),(-.16,2.18),(.1,1.95)]]


fig = plt.figure(figsize=(W / 100, H / 100), dpi=100)
HEAVY = [pe.withStroke(linewidth=.7, foreground='black')]


def ax_px(l, t, r, b):
    return fig.add_axes([l / W, 1 - b / H, (r - l) / W, (b - t) / H])


# full-figure layer in pixels for the free text and legends
ov = fig.add_axes([0, 0, 1, 1], zorder=10)
ov.set_xlim(0, W)
ov.set_ylim(H, 0)
ov.axis('off')

ov.text(202, 46, 'Figure 3:', fontsize=36, fontweight='bold', family='Open Sans', va='center')
ov.text(430, 46, 'JDM-predominant endothelial cells in subcluster 6 exhibit disrupted vascular integrity',
        fontsize=34.2, family='Noto Sans', va='center')
for letter, lx, ly in [('A', 263, 138), ('B', 1448, 138), ('C', 266, 1023), ('D', 1522, 1019)]:
    ov.text(lx, ly, letter, fontsize=33, family='Noto Sans', ha='center', va='center')

# panel A
axA = ax_px(393, 138, 1164, 873)
for pts, hue, dia in UMAP_LAYERS:
    axA.scatter([p[0] for p in pts], [p[1] for p in pts], s=(dia * .72) ** 2, color=HUES[hue], linewidths=0)
for i, name in enumerate(CLUSTERS):
    if LEADER_X[i] is not None:
        axA.plot([LABEL_X[i], LEADER_X[i]], [LABEL_Y[i], LEADER_Y[i]], color='black', lw=1.8, zorder=4)
    axA.text(LABEL_X[i], LABEL_Y[i], name, fontsize=21, ha='center', va='center', zorder=5,
             bbox=dict(boxstyle='round,pad=0.35', fc=HUES[i], ec='black', lw=1.2))
axA.set_xlim(-11.59, 16.86)
axA.set_ylim(-11.44, 18.3)
axA.set_xticks([-10, 0, 10], ['-10', '0', '10'])
axA.set_yticks([-10, 0, 10], ['-10', '0', '10'])
axA.tick_params(labelsize=23, width=1.7, length=6, color='black', pad=5)
for s in ['top', 'right']:
    axA.spines[s].set_visible(False)
for s in ['left', 'bottom']:
    axA.spines[s].set_linewidth(1.8)
ov.text(775, 948, 'UMAP_1', fontsize=26, ha='center', va='center')
ov.text(298, 508, 'UMAP_2', fontsize=26, rotation=90, ha='center', va='center')
for i, name in enumerate(CLUSTERS):
    ly = 303 + i * 40.9
    ov.scatter([1221], [ly], s=(20 * .72) ** 2, color=HUES[i], linewidths=0)
    ov.text(1260, ly, name, fontsize=21, va='center')

# panel B
cmap = LinearSegmentedColormap.from_list('rdylbu', RDYLBU)
norm = Normalize(-1.213, 1.507)
axB = ax_px(1701, 123, 2341, 872)
n = len(DOT_GENES)
for r, gene in enumerate(DOT_GENES):
    for c in range(4):
        d = DOT_PCT[r][c] * .43 * .72
        axB.scatter(c, n - 1 - r, s=d ** 2, color=cmap(norm(DOT_AVG[r][c])), linewidths=0)
axB.set_xlim(-.604, 3.6)
axB.set_ylim(-.575, 15.61)
axB.set_yticks(range(n), DOT_GENES[::-1])
axB.set_xticks(range(4), DOT_IDENT, rotation=45, ha='center')
axB.tick_params(labelsize=20.5, width=1.6, length=6, pad=5)
axB.tick_params(axis='x', labelsize=22, pad=7)
for lab in axB.get_yticklabels() + axB.get_xticklabels():
    lab.set_path_effects(HEAVY)
for s in ['top', 'right']:
    axB.spines[s].set_visible(False)
for s in ['left', 'bottom']:
    axB.spines[s].set_linewidth(1.7)
ov.text(1503, 498, 'Features', fontsize=22, fontweight='bold', rotation=90, ha='center', va='center')
ov.text(2026, 941, 'Identity', fontsize=21.5, ha='center', va='center', fontweight='bold')
ov.text(2375, 302, 'Percent Expressed', fontsize=24, va='center', path_effects=HEAVY)
for pct, ly in zip([20, 40, 60], [353, 389, 427]):
    ov.scatter([2394], [ly], s=(pct * .43 * .72) ** 2, color='black', linewidths=0)
    ov.text(2427, ly, str(pct), fontsize=20.5, va='center', path_effects=HEAVY)
ov.text(2375, 497, 'Average Expression', fontsize=24, va='center', path_effects=HEAVY)
cax = ax_px(2375, 526, 2412, 711)
cbar = fig.colorbar(ScalarMappable(norm=norm, cmap=cmap), cax=cax)
cbar.set_ticks([-1, -.5, 0, .5, 1], labels=['\u22121.0', '\u22120.5', '0.0', '0.5', '1.0'])
cbar.ax.tick_params(labelsize=20.5, color='white', direction='in', length=7, width=1, left=True, right=True, pad=12)
for lab in cbar.ax.get_yticklabels():
    lab.set_path_effects(HEAVY)
cbar.outline.set_visible(False)

# panel C
FACETS = [('4', BOX_4, 517, 1132.5, 1394.6, (.0074, .3514), [.1, .2, .3], ['0.1', '0.2', '0.3']),
          ('5', BOX_5, 896, 1132.5, 1394.6, (.0567, .1898), [.1, .15], ['0.10', '0.15']),
          ('6', BOX_6, 517, 1511, 1773, (-.0102, .2436), [0, .05, .1, .15, .2], ['0.00', '0.05', '0.10', '0.15', '0.20']),
          ('9', BOX_9, 896, 1511, 1773, (-.0052, .1192), [0, .03, .06, .09], ['0.00', '0.03', '0.06', '0.09'])]
P_TEXT = {'4': ('p = 0.0012', 562, 1152), '5': ('p = 0.73', 948, 1152),
          '6': ('p = 0.0023', 562, 1531), '9': ('p = 0.014', 944, 1531)}
for name, stats, left, top, bottom, ylim, ticks, labels in FACETS:
    right = left + 287
    st = ax_px(left, top - 54, right, top)
    st.set_facecolor('#D9D9D9')
    st.set_xticks([])
    st.set_yticks([])
    st.text(.5, .5, name, fontsize=20.5, color='#1A1A1A', ha='center', va='center', transform=st.transAxes)
    ax = ax_px(left, top, right, bottom)
    bs = [dict(whislo=s[0], q1=s[1], med=s[2], q3=s[3], whishi=s[4], fliers=[]) for s in stats]
    ax.bxp(bs, positions=[1, 2], widths=.76, showcaps=False, showfliers=False,
           boxprops=dict(color=LINE, lw=2.7), whiskerprops=dict(color=LINE, lw=2.7),
           medianprops=dict(color=LINE, lw=5.2, solid_capstyle='butt'))
    ax.set_xlim(.41, 2.6)
    ax.set_ylim(*ylim)
    ax.set_xticks([1, 2], BOX_GROUPS)
    ax.set_yticks(ticks, labels)
    ax.tick_params(labelsize=20.5, labelcolor='#4D4D4D', color=LINE, width=2, length=5, pad=5)
    for a in (st, ax):
        for s in a.spines.values():
            s.set_linewidth(2.4)
            s.set_color(LINE)
    txt, px, py = P_TEXT[name]
    ov.text(px, py, txt, fontsize=25, va='center')
ov.text(416, 1452, 'Fraction of cells in patient sample', fontsize=25.6, rotation=90, ha='center', va='center')
ov.text(852, 1840, 'Disease status', fontsize=26, ha='center', va='center')

# panel D
PANELS = [('CD36', V_CD36, J_CD36, 1648, 1172, 1366, (-.296, 6.63), [0, 2, 4, 6]),
          ('FLT1', V_FLT1, J_FLT1, 2032, 1172, 1366, (-.25, 5.57), [0, 2, 4]),
          ('DACH1', V_DACH1, J_DACH1, 2415, 1172, 1366, (-.29, 6.47), [0, 2, 4, 6]),
          ('ANGPT2', V_ANGPT2, J_ANGPT2, 1648, 1541, 1735, (-.24, 5.0), [0, 1, 2, 3, 4]),
          ('JAK2', V_JAK2, J_JAK2, 2032, 1541, 1735, (-.255, 5.25), [0, 1, 2, 3, 4, 5]),
          ('MX1', V_MX1, J_MX1, 2415, 1541, 1735, (-.245, 5.04), [0, 1, 2, 3, 4, 5])]
for gene, profiles, jitter, left, top, bottom, ylim, ticks in PANELS:
    ax = ax_px(left, top, left + 278.6, bottom)
    for i in range(4):
        levels = [p[0] for p in profiles[i]]
        hw = [p[1] for p in profiles[i]]
        ax.fill_betweenx(levels, [i - h for h in hw], [i + h for h in hw], fc=VIOLIN_COLORS[i],
                         ec=LINE, lw=1.6, zorder=2)
        ax.scatter([i + d for d in ZERO_DX], [0] * len(ZERO_DX), s=14, color='black', linewidths=0, zorder=3)
        ax.scatter([i + p[0] for p in jitter[i]], [p[1] for p in jitter[i]], s=8, color='black',
                   linewidths=0, zorder=3)
    ax.set_xlim(-.597, 3.624)
    ax.set_ylim(*ylim)
    ax.set_xticks(range(4), VIOLIN_IDS, rotation=45, ha='center')
    ax.set_yticks(ticks)
    ax.tick_params(labelsize=19, width=1.6, length=6, pad=4)
    ax.tick_params(axis='x', labelsize=22, pad=7)
    for s in ['top', 'right']:
        ax.spines[s].set_visible(False)
    for s in ['left', 'bottom']:
        ax.spines[s].set_linewidth(1.8)
    cx = left + 139
    title_y = 1136 if top < 1300 else 1505
    ov.text(cx, title_y, gene, fontsize=27.5, fontweight='bold', ha='center', va='center')
    ov.text(cx, bottom + 70, 'Identity', fontsize=24, ha='center', va='center')
    ov.text(left - 58, (top + bottom) / 2 + 1, 'Expression Level', fontsize=24.4, rotation=90, ha='center', va='center')

fig.savefig('out.png', dpi=100)
